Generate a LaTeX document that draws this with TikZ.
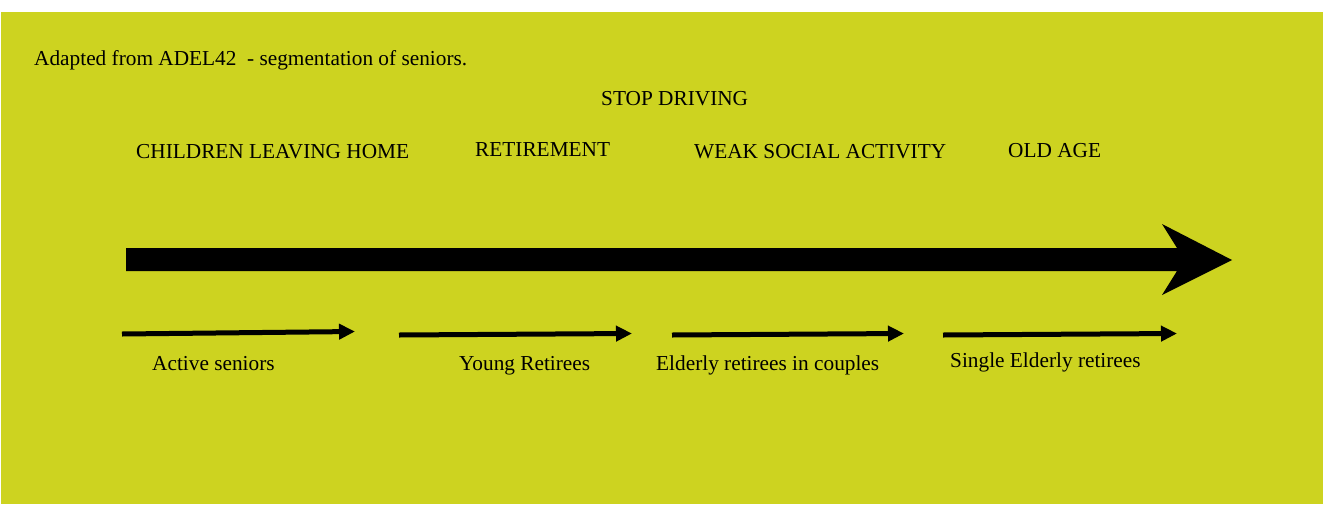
\documentclass[tikz,border=0pt]{standalone}
\usepackage{fontspec}
\setmainfont{Liberation Serif}
\usetikzlibrary{arrows.meta}
\definecolor{bg}{RGB}{205,211,32}
\begin{document}
\begin{tikzpicture}[x=1pt,y=-1pt,
  lbl/.style={anchor=base west,inner sep=0pt,font=\fontsize{21.3}{25}\selectfont,text=black},
  seg/.style={line width=5pt,-{Triangle[length=16pt,width=15pt]}}]
\useasboundingbox (0,0) rectangle (1323,504);
\fill[bg] (1,12) rectangle (1323,504);
% big arrow
\fill[black] (126,248) -- (1177,248) -- (1162,224) -- (1232,260) -- (1162,295) -- (1177,271) -- (126,271) -- cycle;
% texts
\node[lbl] (title) at (34,65) {Adapted from ADEL42\ \ - segmentation of seniors.};
\node[lbl] (stop) at (601,105) {STOP DRIVING};
\node[lbl] (child) at (136,158) {CHILDREN LEAVING HOME};
\node[lbl] (retire) at (475,156) {RETIREMENT};
\node[lbl] (weak) at (694,158) {WEAK SOCIAL ACTIVITY};
\node[lbl] (old) at (1008,157) {OLD AGE};
\node[lbl] (active) at (152,370) {Active seniors};
\node[lbl] (young) at (459,370) {Young Retirees};
\node[lbl] (elderly) at (656,370) {Elderly retirees in couples};
\node[lbl] (single) at (950,367) {Single Elderly retirees};
% small arrows
\coordinate (a1s) at (122,334); \coordinate (a1e) at (355,331.5);
\coordinate (a2s) at (399,335); \coordinate (a2e) at (632,333.5);
\coordinate (a3s) at (672,335); \coordinate (a3e) at (904,333.5);
\coordinate (a4s) at (943,335); \coordinate (a4e) at (1177,333.5);
\draw[seg] (a1s) -- (a1e);
\draw[seg] (a2s) -- (a2e);
\draw[seg] (a3s) -- (a3e);
\draw[seg] (a4s) -- (a4e);
\end{tikzpicture}
\end{document}
